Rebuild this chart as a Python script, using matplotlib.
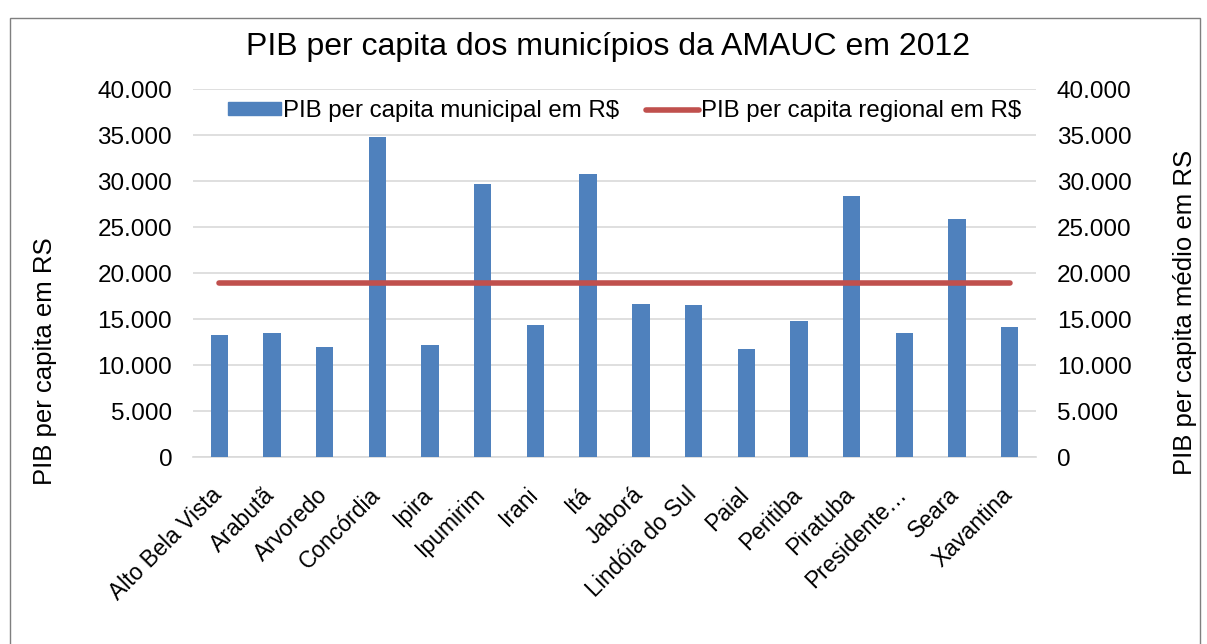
import matplotlib
matplotlib.use("Agg")
import matplotlib.pyplot as plt
from matplotlib.patches import Rectangle
from matplotlib.lines import Line2D
from matplotlib.transforms import ScaledTranslation

categories = ["Alto Bela Vista", "Arabutã", "Arvoredo", "Concórdia", "Ipira", "Ipumirim",
              "Irani", "Itá", "Jaborá", "Lindóia do Sul", "Paial", "Peritiba", "Piratuba",
              "Presidente…", "Seara", "Xavantina"]
municipal = [13300, 13500, 12000, 34800, 12200, 29700, 14300, 30800, 16600, 16500,
             11700, 14800, 28400, 13500, 25900, 14100]
regional = [18900] * len(categories)
yticks = [0, 5000, 10000, 15000, 20000, 25000, 30000, 35000, 40000]
yticklabels = ["0", "5.000", "10.000", "15.000", "20.000", "25.000", "30.000", "35.000", "40.000"]

plt.rcParams['font.family'] = ['Liberation Sans', 'DejaVu Sans']

W, H = 1207, 644
fig = plt.figure(figsize=(W / 100, H / 100), dpi=100)

# outer frame
fig.patches.append(Rectangle((10 / W, -0.01), 1190 / W, 1 - 18 / H + 0.01, transform=fig.transFigure,
                             fill=False, edgecolor="#7f7f7f", linewidth=1.0))

left, right = 193 / W, 1036 / W
bottom, top = 1 - 457 / H, 1 - 89 / H
ax = fig.add_axes([left, bottom, right - left, top - bottom])
x = list(range(len(categories)))
ax.bar(x, municipal, width=0.33, color="#4f81bd", zorder=3)
ax.set_xlim(-0.5, len(categories) - 0.5)
ax.set_ylim(0, 40000)
ax.set_yticks(yticks)
ax.set_yticklabels(yticklabels, fontsize=17.5)
ax.grid(axis="y", color="#d9d9d9", linewidth=1.2, zorder=0)
for s in ["top", "left", "right"]:
    ax.spines[s].set_visible(False)
ax.spines["bottom"].set_color("#d9d9d9")
ax.spines["bottom"].set_linewidth(1.2)
ax.tick_params(axis="y", length=0, pad=15)
ax.tick_params(axis="x", length=0, pad=8)
ax.set_xticks(x)
ax.set_xticklabels(categories, rotation=45, ha="right", rotation_mode="anchor", fontsize=16.5)
offset = ScaledTranslation(-9 / 100, -15 / 100, fig.dpi_scale_trans)
for lab in ax.get_xticklabels():
    lab.set_transform(lab.get_transform() + offset)

ax2 = ax.twinx()
ax2.plot(x, regional, color="#c0504d", linewidth=4, solid_capstyle="round", zorder=4)
ax2.set_ylim(0, 40000)
ax2.set_yticks(yticks)
ax2.set_yticklabels(yticklabels, fontsize=17.5)
ax2.tick_params(axis="y", length=0, pad=15)
for s in ["top", "left", "right", "bottom"]:
    ax2.spines[s].set_visible(False)

fig.text(45 / W, 1 - 361 / H, "PIB per capita em RS", rotation=90, ha="center", va="center",
         fontsize=18.5)
fig.text(1185 / W, 1 - 312 / H, "PIB per capita médio em RS", rotation=90, ha="center",
         va="center", fontsize=18.5)

handles = [Rectangle((0, 0), 1, 1, color="#4f81bd"),
           Line2D([0], [0], color="#c0504d", linewidth=4, solid_capstyle="round")]
ax2.legend(handles, ["PIB per capita municipal em R$", "PIB per capita regional em R$"],
           loc="center", bbox_to_anchor=(0.512, 0.940), ncol=2, frameon=False,
           fontsize=17.3, handlelength=2.2, handleheight=0.45, handletextpad=0.1,
           columnspacing=1.1, borderaxespad=0.0, borderpad=0.0)

fig.text(608 / W, 1 - 47 / H, "PIB per capita dos municípios da AMAUC em 2012", ha="center",
         va="center", fontsize=23)

fig.savefig("out.png", dpi=100)
